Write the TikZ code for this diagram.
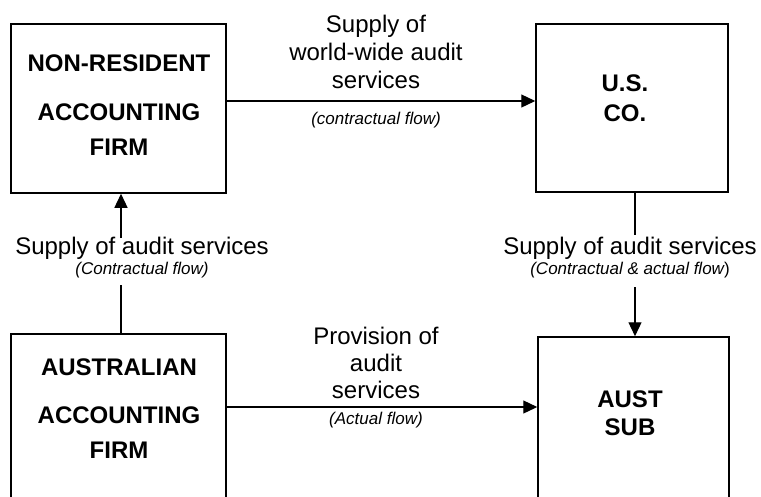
\documentclass[tikz,border=0pt]{standalone}
\usepackage{fontspec}
\setmainfont{Liberation Sans}
\usetikzlibrary{arrows.meta}
\begin{document}
\begin{tikzpicture}[x=1pt,y=-1pt,
  box/.style={draw, line width=1.5pt, inner sep=0pt},
  arr/.style={line width=1.3pt, -{Triangle[length=14pt,width=13pt]}},
  ln/.style={line width=1.3pt},
  lbl/.style={font=\fontsize{24}{28}\selectfont, anchor=base, inner sep=0pt},
  boldlbl/.style={font=\fontsize{24}{28}\selectfont\bfseries, anchor=base, inner sep=0pt},
  note/.style={font=\fontsize{17}{20}\selectfont\itshape, anchor=base, inner sep=0pt}]
\fill[white] (0,0) rectangle (761,496);
\useasboundingbox (0,0) rectangle (761,496);
\clip (0,0) rectangle (761,496);
% boxes
\node[box, minimum width=215pt, minimum height=169pt] (tl) at (118.5,108.5) {};
\node[box, minimum width=192pt, minimum height=168pt] (tr) at (632,108) {};
\node[box, minimum width=215pt, minimum height=169pt] (bl) at (118.5,418.5) {};
\node[box, minimum width=191pt, minimum height=168pt] (br) at (633.5,421) {};
% box texts
\node[boldlbl] (tl1) at (119,71.6) {NON-RESIDENT};
\node[boldlbl] (tl2) at (119,120.6) {ACCOUNTING};
\node[boldlbl] (tl3) at (119,155.6) {FIRM};
\node[boldlbl] (tr1) at (625,91.6) {U.S.};
\node[boldlbl] (tr2) at (625,121.6) {CO.};
\node[boldlbl] (bl1) at (119,375.6) {AUSTRALIAN};
\node[boldlbl] (bl2) at (119,423.6) {ACCOUNTING};
\node[boldlbl] (bl3) at (119,458.6) {FIRM};
\node[boldlbl] (br1) at (630,407.6) {AUST};
\node[boldlbl] (br2) at (630,435.6) {SUB};
% top arrow labels
\node[lbl] (t1) at (376,32) {Supply of};
\node[lbl] (t2) at (376,60) {world-wide audit};
\node[lbl] (t3) at (376,88) {services};
\node[note] (t4) at (376,124) {(contractual flow)};
% bottom arrow labels
\node[lbl] (b1) at (376,344) {Provision of};
\node[lbl] (b2) at (376,371) {audit};
\node[lbl] (b3) at (376,398) {services};
\node[note] (b4) at (376,424) {(Actual flow)};
% left vertical labels
\node[lbl] (l1) at (142,254) {Supply of audit services};
\node[note] (l2) at (142,274) {(Contractual flow)};
% right vertical labels
\node[lbl] (r1) at (630,254) {Supply of audit services};
\node[note, font=\fontsize{17}{20}\selectfont] (r2) at (630,274) {{\itshape (Contractual \& actual flow})};
% connector helper coordinates
\coordinate (yT) at (0,101);
\coordinate (yB) at (0,407);
\coordinate (gL1) at (121,238);
\coordinate (gL2) at (121,285);
\coordinate (gR1) at (635,235);
\coordinate (gR2) at (635,287);
% connectors
\draw[arr] (tl.east |- yT) -- (tr.west |- yT);
\draw[arr] (bl.east |- yB) -- (br.west |- yB);
\draw[ln] (bl.north -| gL2) -- (gL2);
\draw[arr] (gL1) -- (tl.south -| gL1);
\draw[ln] (tr.south -| gR1) -- (gR1);
\draw[arr] (gR2) -- (br.north -| gR2);
\end{tikzpicture}
\end{document}
